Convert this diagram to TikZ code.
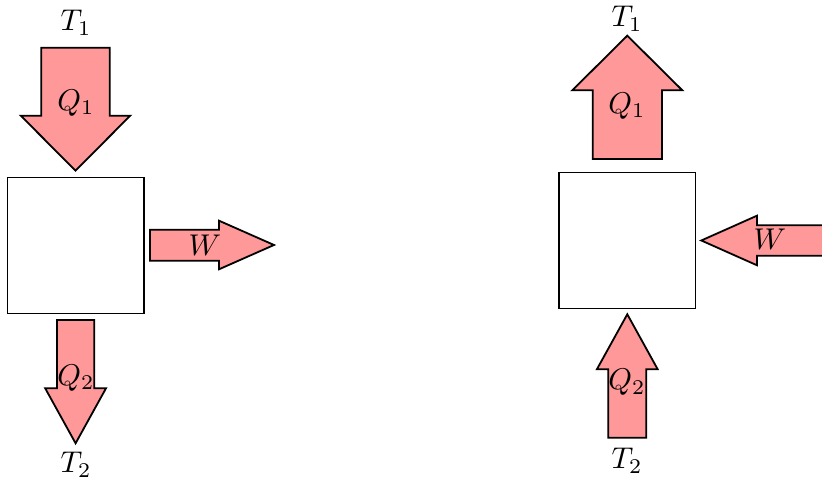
\documentclass[tikz,border=0pt]{standalone}
\begin{document}
\begin{tikzpicture}[x=0.3333pt,y=-0.3333pt,
  sysbox/.style={draw,line width=0.45pt,minimum width=45.5pt,minimum height=45.4pt,inner sep=0pt},
  heat/.style={draw,fill=red!40,line width=0.6pt,line join=miter},
  lbl/.style={anchor=base,inner sep=0pt}]
\useasboundingbox (0,0) rectangle (822,479);
\clip (0,0) rectangle (822,479);
% ---------- left: engine ----------
\node[sysbox] (sysL) at (75.65,245.3) {};
\draw[heat] (41.3,47.7) -- (109.7,47.7) -- (109.7,115.7) -- (130.2,115.7) -- (75.5,170.7) -- (20.8,115.7) -- (41.3,115.7) -- cycle;
\draw[heat] (150,229.7) -- (219,229.7) -- (219,220.7) -- (274,245) -- (219,269.3) -- (219,260.7) -- (150,260.7) -- cycle;
\draw[heat] (57,320) -- (94.3,320) -- (94.3,388.3) -- (106,388.3) -- (75.6,443.3) -- (45.2,388.3) -- (57,388.3) -- cycle;
\node[lbl] (T1L) at (76,31) {$T_1$};
\node[lbl] (Q1L) at (76,110.5) {$Q_1$};
\node[lbl] (WL) at (205,255.5) {$W$};
\node[lbl] (Q2L) at (76,385.5) {$Q_2$};
\node[lbl] (T2L) at (76,473) {$T_2$};
% ---------- right: refrigerator ----------
\node[sysbox] (sysR) at (627.35,240.5) {};
\draw[heat] (592.7,159) -- (592.7,90.3) -- (572.3,90.3) -- (627.3,35.7) -- (682.3,90.3) -- (661.9,90.3) -- (661.9,159) -- cycle;
\draw[heat] (840,225.3) -- (757,225.3) -- (757,215.7) -- (701.3,240.5) -- (757,265.3) -- (757,255.7) -- (840,255.7) -- cycle;
\draw[heat] (608.3,437.7) -- (608.3,369.3) -- (596.9,369.3) -- (627.3,314.3) -- (657.7,369.3) -- (646.3,369.3) -- (646.3,437.7) -- cycle;
\node[lbl] (T1R) at (627,27) {$T_1$};
\node[lbl] (Q1R) at (627,113.5) {$Q_1$};
\node[lbl] (WR) at (770,250) {$W$};
\node[lbl] (Q2R) at (627,390) {$Q_2$};
\node[lbl] (T2R) at (627,469) {$T_2$};
\end{tikzpicture}
\end{document}
